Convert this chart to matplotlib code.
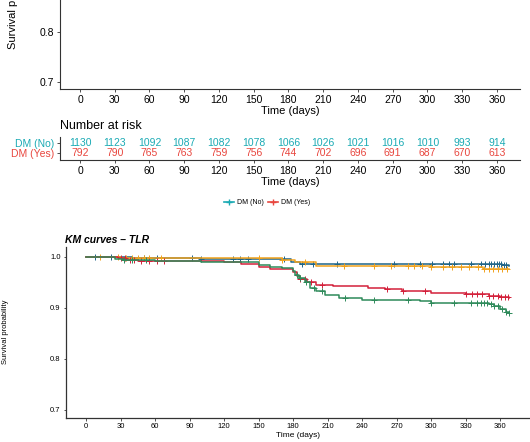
import numpy as np
import matplotlib
matplotlib.use("Agg")
import matplotlib.pyplot as plt
from matplotlib.lines import Line2D

plt.rcParams['font.family'] = ['Liberation Sans', 'DejaVu Sans']

# ---- data ----
time_ticks = [0, 30, 60, 90, 120, 150, 180, 210, 240, 270, 300, 330, 360]
risk_no = [1130, 1123, 1092, 1087, 1082, 1078, 1066, 1026, 1021, 1016, 1010, 993, 914]
risk_yes = [792, 790, 765, 763, 759, 756, 744, 702, 696, 691, 687, 670, 613]
risk_labels = ["DM (No)", "DM (Yes)"]
risk_colors = ["#1AAAB4", "#E8463E"]

# KM curves - TLR: step times and survival
blue_t = [0, 40, 100, 178, 186, 362, 368]
blue_s = [1.0, 0.998, 0.996, 0.99, 0.986, 0.984, 0.982]
blue_cens = [8, 22, 50, 62, 92, 100, 128, 134, 141, 172, 188, 197, 218, 268, 290, 301, 310, 316, 320,
             335, 343, 347, 350, 352, 355, 357, 359, 361, 363, 365]

orange_t = [0, 30, 170, 182, 200, 300, 345, 368]
orange_s = [1.0, 0.998, 0.995, 0.99, 0.983, 0.98, 0.977, 0.976]
orange_cens = [12, 28, 35, 40, 45, 50, 55, 65, 150, 170, 190, 224, 250, 265, 280, 285, 292, 300,
               310, 318, 326, 333, 341, 346, 350, 354, 358, 362, 366]

red_t = [0, 28, 35, 45, 120, 135, 150, 160, 180, 183, 186, 192, 200, 215, 245, 260, 275, 300, 330,
         350, 360, 368]
red_s = [1.0, 0.998, 0.995, 0.993, 0.99, 0.986, 0.98, 0.977, 0.97, 0.963, 0.957, 0.951, 0.945,
         0.943, 0.94, 0.937, 0.934, 0.93, 0.927, 0.924, 0.921, 0.92]
red_cens = [30, 34, 38, 42, 48, 55, 62, 68, 186, 190, 196, 205, 262, 276, 295, 330, 336, 340, 344,
            350, 354, 358, 361, 364, 367]

green_t = [0, 25, 32, 60, 100, 150, 160, 170, 180, 182, 185, 190, 195, 200, 208, 220, 240, 290, 300,
           350, 355, 360, 365, 368]
green_s = [1.0, 0.997, 0.994, 0.992, 0.99, 0.985, 0.98, 0.978, 0.972, 0.965, 0.958, 0.95, 0.94,
           0.933, 0.925, 0.92, 0.916, 0.913, 0.91, 0.908, 0.903, 0.898, 0.893, 0.89]
green_cens = [33, 40, 52, 183, 186, 191, 198, 205, 225, 250, 280, 300, 320, 335, 340, 343, 346, 349,
              352, 355, 358, 362, 365, 368]

curves = [(blue_t, blue_s, blue_cens, "#1F6488"),
          (orange_t, orange_s, orange_cens, "#F0A21C"),
          (red_t, red_s, red_cens, "#D3203A"),
          (green_t, green_s, green_cens, "#2E8A5A")]

W, H = 530, 442
fig = plt.figure(figsize=(W / 100, H / 100), dpi=100)


def box(x0, y0, x1, y1):
    # pixel box (top-left origin) -> figure fraction
    return [x0 / W, 1 - y1 / H, (x1 - x0) / W, (y1 - y0) / H]


def style(ax, lw=0.8):
    for s in ["top", "right"]:
        ax.spines[s].set_visible(False)
    for s in ["left", "bottom"]:
        ax.spines[s].set_linewidth(lw)
        ax.spines[s].set_color("#333333")
    ax.tick_params(length=2.2, width=0.6, color="#333333", pad=2)


# ---- top panel (empty, cropped at the top) ----
ax1 = fig.add_axes(box(60, -85, 520, 89))
style(ax1)
ax1.set_xlim(-17.3, 380)
ax1.set_ylim(0.686, 1.034)
ax1.set_xticks(time_ticks)
ax1.set_yticks([0.7, 0.8])
ax1.tick_params(labelsize=7.5)
ax1.set_xlabel("Time (days)", fontsize=8, labelpad=1)
fig.text(13 / W, 1 - 2 / H, "Survival probability", fontsize=8, rotation=90,
         ha="center", va="center")

# ---- number at risk table ----
fig.text(60 / W, 1 - 126 / H, "Number at risk", fontsize=9, va="center", ha="left")
ax2 = fig.add_axes(box(60, 137, 520, 160))
style(ax2)
ax2.set_xlim(-17.3, 380)
ax2.set_ylim(-0.7, 1.6)
ax2.set_xticks(time_ticks)
ax2.set_yticks([1, 0])
ax2.set_yticklabels(risk_labels, fontsize=7.5)
for lab, c in zip(ax2.get_yticklabels(), risk_colors):
    lab.set_color(c)
ax2.tick_params(axis="x", labelsize=7.5)
for t, n in zip(time_ticks, risk_no):
    ax2.text(t, 1, str(n), color=risk_colors[0], fontsize=7.5, ha="center", va="center")
for t, n in zip(time_ticks, risk_yes):
    ax2.text(t, 0, str(n), color=risk_colors[1], fontsize=7.5, ha="center", va="center")
ax2.set_xlabel("Time (days)", fontsize=8, labelpad=1)

# ---- legend ----
handles = [Line2D([], [], color=c, marker="+", markersize=5, lw=1.2) for c in risk_colors]
fig.legend(handles, risk_labels, loc="center", bbox_to_anchor=(267 / W, 1 - 203 / H), ncol=2,
           frameon=False, fontsize=5, handlelength=1.5, handletextpad=0.4, columnspacing=0.6)

# ---- bottom panel: KM curves - TLR ----
ax3 = fig.add_axes(box(66, 247, 530, 418))
style(ax3, lw=0.9)
ax3.set_xlim(-17.4, 386)
ax3.set_ylim(0.6843, 1.0196)
ax3.set_xticks(time_ticks)
ax3.set_yticks([0.7, 0.8, 0.9, 1.0])
ax3.set_yticklabels(["0.7", "0.8", "0.9", "1.0"])
ax3.tick_params(labelsize=5.5, length=1.8)
for t, s, cens, c in curves:
    t = np.array(t)
    s = np.array(s)
    ax3.step(t, s, where="post", color=c, lw=1.1)
    idx = np.searchsorted(t, cens, side="right") - 1
    ax3.plot(cens, s[idx], ls="none", marker="+", color=c, markersize=3.8, mew=0.7)
ax3.set_xlabel("Time (days)", fontsize=6, labelpad=1)
fig.text(6 / W, 1 - 332 / H, "Survival probability", fontsize=5.5, rotation=90,
         ha="center", va="center")
fig.text(65 / W, 1 - 240 / H, "KM curves \u2013 TLR", fontsize=7.5, fontweight="bold",
         fontstyle="italic", va="center", ha="left")

fig.savefig("out.png", dpi=100)
